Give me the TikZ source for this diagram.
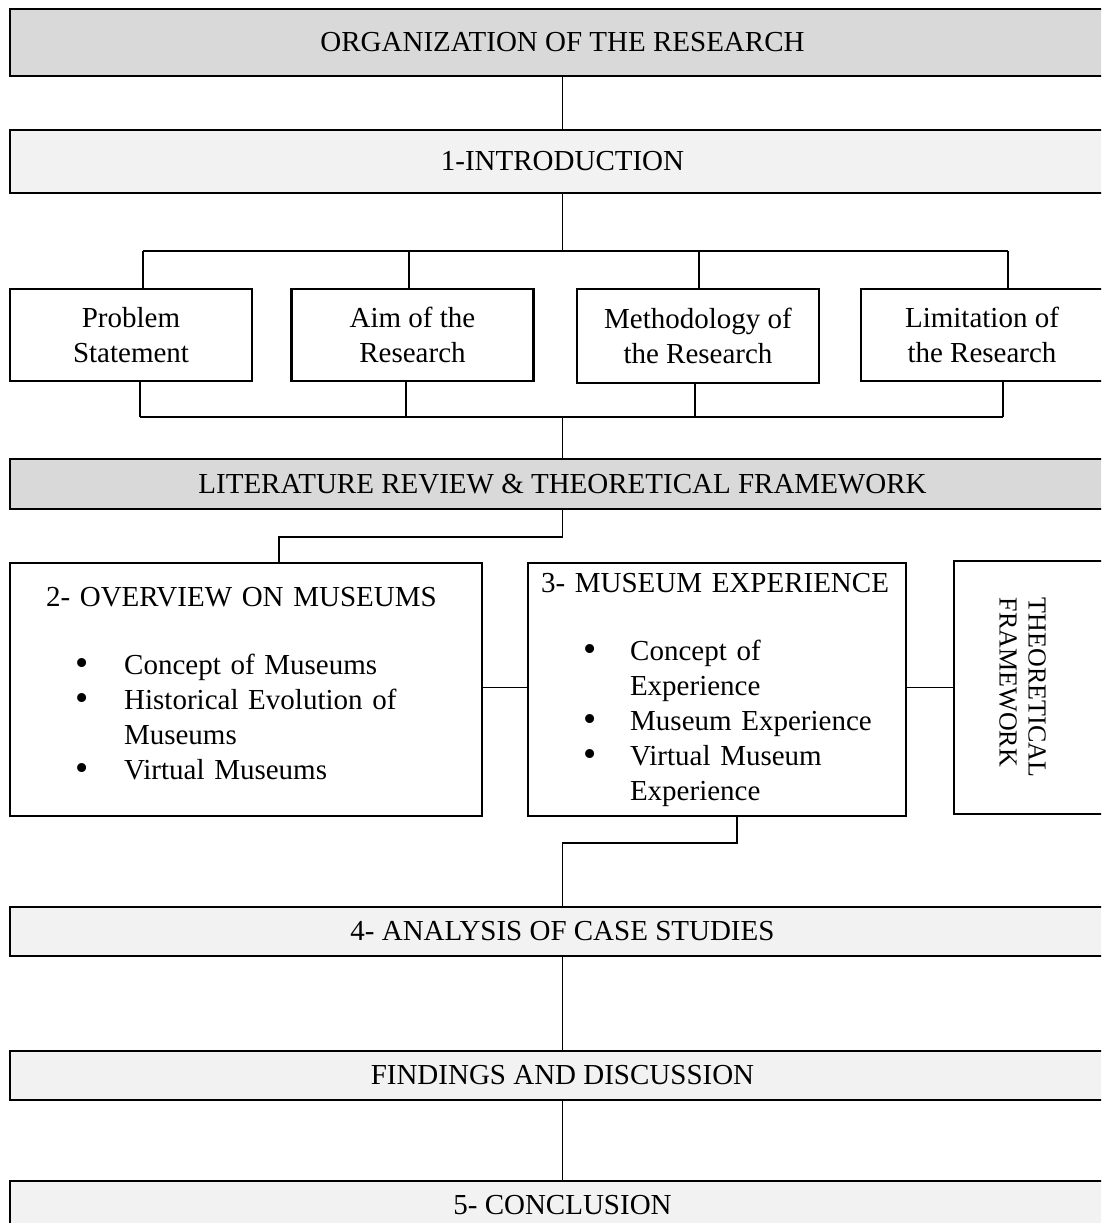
\documentclass[tikz,border=0pt]{standalone}
\usepackage{fontspec}
\setmainfont{Liberation Serif}

\definecolor{headgray}{HTML}{D9D9D9}
\definecolor{partgray}{HTML}{F2F2F2}
\newcommand{\bul}[2]{\hspace*{#1}\raisebox{-1pt}{\scalebox{1.3}{\textbullet}}\hspace{#2}}

\tikzset{
  bar/.style={draw, line width=2.6pt, minimum width=1105pt, inner sep=0pt},
  headbar/.style={bar, fill=headgray},
  partbar/.style={bar, fill=partgray},
  smallbox/.style={draw, line width=2.6pt, minimum width=242pt, minimum height=92pt, align=center, inner sep=0pt},
  bigbox/.style={draw, line width=2.6pt, minimum height=253pt, align=left, inner sep=0pt},
  wire/.style={line width=1.6pt}
}

\begin{document}
\begin{tikzpicture}[x=1pt, y=-1pt, every node/.style={font=\fontsize{29}{35}\selectfont}]
      \useasboundingbox (0,0) rectangle (1101,1223);
      \clip (0,0) rectangle (1101,1223);

      \node[headbar, minimum height=67pt] (org) at (562.5, 42.5) {ORGANIZATION OF THE RESEARCH};
      \node[partbar, minimum height=63pt] (intro) at (562.5, 161.5) {1-INTRODUCTION};

      \node[smallbox] (ps) at (131, 335) {Problem\\Statement};
      \node[smallbox] (aim) at (412.5, 335) {Aim of the\\Research};
      \node[smallbox, minimum height=94pt] (meth) at (698, 336) {Methodology of\\the Research};
      \node[smallbox] (lim) at (982, 335) {Limitation of\\the Research};

      \node[headbar, minimum height=50pt] (lit) at (562.5, 484) {LITERATURE REVIEW \& THEORETICAL FRAMEWORK};

      \node[bigbox, minimum width=472pt, text width=400pt] (ovr) at (246, 689.5) {%
        2- OVERVIEW ON MUSEUMS\\[33pt]
        \bul{29.5pt}{35.5pt}Concept of Museums\\
        \bul{29.5pt}{35.5pt}Historical Evolution of\\
        \hspace*{78pt}Museums\\
        \bul{29.5pt}{35.5pt}Virtual Museums\rule[-12pt]{0pt}{12pt}};
      \node[bigbox, minimum width=378pt, text width=352pt] (mex) at (717, 689.5) {%
        3- MUSEUM EXPERIENCE\\[33pt]
        \bul{42.5pt}{33.5pt}Concept of\\
        \hspace*{89pt}Experience\\
        \bul{42.5pt}{33.5pt}Museum Experience\\
        \bul{42.5pt}{33.5pt}Virtual Museum\\
        \hspace*{89pt}Experience};
      \node[draw, line width=2.6pt, minimum width=166pt, minimum height=253pt] (tfbox) at (1037, 687.5) {};
      \node[rotate=-90, align=left, font=\fontsize{26}{29}\selectfont] (tf) at (1022.5, 687.5) {THEORETICAL\\FRAMEWORK};

      \node[partbar, minimum height=49pt] (ana) at (562.5, 931.5) {4- ANALYSIS OF CASE STUDIES};
      \node[partbar, minimum height=49pt] (fin) at (562.5, 1075.5) {FINDINGS AND DISCUSSION};
      \node[partbar, minimum height=49pt] (con) at (562.5, 1205.5) {5- CONCLUSION};

      \coordinate (tbus) at (562.5, 251);
      \coordinate (t1) at (143, 251);
      \coordinate (t2) at (409, 251);
      \coordinate (t3) at (699, 251);
      \coordinate (t4) at (1008, 251);
      \coordinate (bbus) at (562.5, 417);
      \coordinate (b1) at (140, 417);
      \coordinate (b2) at (406, 417);
      \coordinate (b3) at (695, 417);
      \coordinate (b4) at (1003, 417);
      \coordinate (l2) at (279, 537);
      \coordinate (m4) at (737, 843);
      \coordinate (side) at (0, 687.5);

      \draw[wire] (org.south) -- (intro.north);
      \draw[wire] (intro.south) -- (tbus);
      \draw[wire] (t1) -- (t4);
      \draw[wire] (t1) -- (t1 |- ps.north);
      \draw[wire] (t2) -- (t2 |- aim.north);
      \draw[wire] (t3) -- (t3 |- meth.north);
      \draw[wire] (t4) -- (t4 |- lim.north);

      \draw[wire] (b1 |- ps.south) -- (b1);
      \draw[wire] (b2 |- aim.south) -- (b2);
      \draw[wire] (b3 |- meth.south) -- (b3);
      \draw[wire] (b4 |- lim.south) -- (b4);
      \draw[wire] (b1) -- (b4);
      \draw[wire] (bbus) -- (lit.north);

      \draw[wire] (lit.south) |- (l2) -- (l2 |- ovr.north);
      \draw[wire] (ovr.east |- side) -- (mex.west |- side);
      \draw[wire] (mex.east |- side) -- (tfbox.west |- side);
      \draw[wire] (m4 |- mex.south) -- (m4) -| (ana.north);

      \draw[wire] (ana.south) -- (fin.north);
      \draw[wire] (fin.south) -- (con.north);
\end{tikzpicture}
\end{document}
